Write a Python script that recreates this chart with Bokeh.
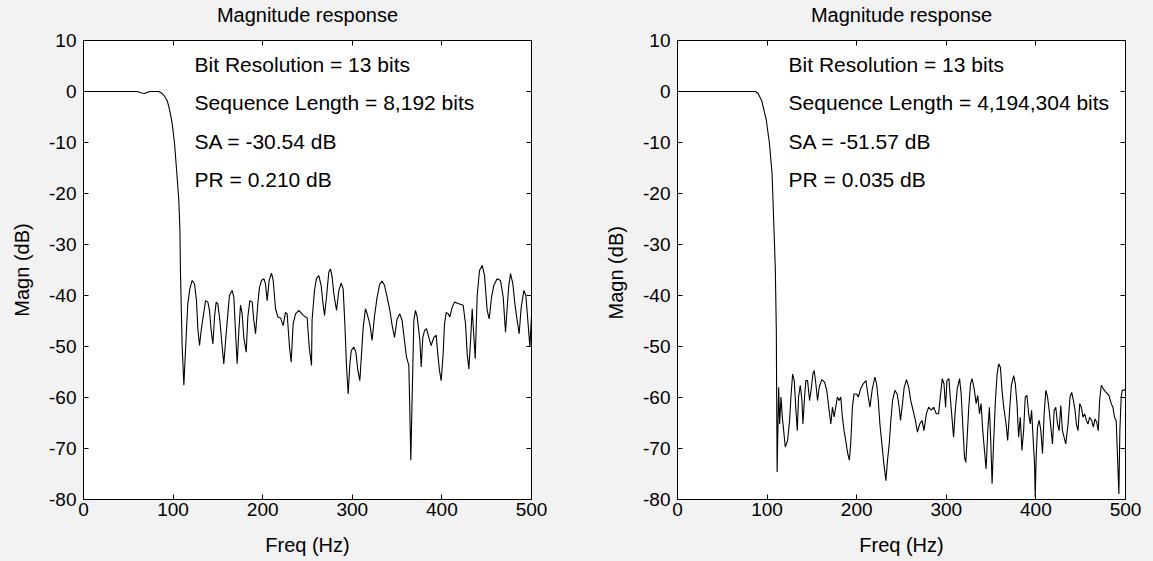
from bokeh.plotting import figure
from bokeh.layouts import row
from bokeh.models import LinearAxis, FixedTicker, Range1d, CustomJSTickFormatter
from bokeh.core.properties import value
from bokeh.embed import file_html
from bokeh.resources import INLINE

# ---------------- data ----------------
freq_left = [0, 60, 65, 68, 71, 74, 84, 87, 90, 93.4, 96, 99, 101.6, 104.5, 106.4, 107.6, 108.3,
             110.1, 112.0, 114.9, 116.4, 118.7, 121.3, 123.9, 126.1, 127.6, 129.5, 131.3, 133.2,
             136.2, 138.8, 140.6, 142.5, 144.4, 146.2, 148.1, 149.9, 152.2, 154.8, 156.6, 158.9,
             161.1, 162.9, 165.9, 167.8, 169.6, 171.5, 173.4, 175.2, 177.1, 178.9, 181.6, 183.4,
             185.7, 188.3, 190.1, 192.0, 194.6, 196.4, 198.7, 201.3, 203.1, 205.0, 207.2, 209.8,
             211.7, 214.3, 216.9, 219.9, 222.9, 225.4, 227.3, 229.9, 231.8, 234.0, 236.6, 240.3,
             245.2, 249.6, 251.9, 254.5, 255.1, 257.8, 260.0, 262.6, 265.2, 267.5, 269.0, 271.2,
             273.8, 275.7, 277.5, 279.4, 282.4, 285.0, 287.6, 289.8, 291.7, 293.5, 295.4, 297.3,
             298.8, 301.7, 304.0, 306.2, 308.4, 310.3, 312.2, 314.7, 316.6, 319.6, 322.1, 324.7,
             327.7, 330.7, 333.3, 335.9, 338.9, 341.9, 344.5, 347.1, 350.0, 353.0, 355.6, 358.2,
             360.5, 363.1, 364.2, 365.3, 366.8, 368.7, 370.5, 372.4, 375.4, 376.9, 378.7, 380.6,
             382.8, 385.4, 388.0, 391.0, 393.6, 395.4, 397.3, 399.2, 401.4, 402.9, 404.8, 407.0,
             408.9, 411.5, 414.1, 418.9, 423.7, 426.4, 428.2, 430.1, 432.0, 433.8, 435.7, 437.2,
             439.4, 442.0, 445.0, 447.6, 450.5, 452.8, 455.4, 458.0, 461.7, 465.4, 468.4, 471.0,
             472.9, 474.7, 476.6, 479.2, 481.4, 484.0, 486.2, 488.5, 491.5, 493.7, 495.9, 498.2, 500]
mag_left = [0, 0, -0.3, -0.4, -0.2, 0, 0, -0.3, -0.8, -1.8, -3.5, -6.3, -10.2, -16.8, -21.4, -27, -36.1,
            -49.8, -57.6, -46.9, -41.6, -38.7, -37.05, -37.7, -41.0, -46.5, -49.8, -46.9, -44.6,
            -41.0, -41.3, -42.9, -46.9, -49.5, -44.2, -41.3, -41.6, -44.9, -50.1, -53.4, -48.2,
            -43.6, -40.0, -39.0, -40.3, -46.9, -53.4, -46.9, -41.9, -43.6, -48.2, -51.1, -44.2,
            -41.0, -41.3, -44.9, -47.5, -41.6, -38.4, -37.05, -36.7, -37.7, -41.0, -37.05, -35.6,
            -37.05, -42.6, -44.2, -44.4, -45.9, -43.3, -43.6, -50.1, -53.1, -45.5, -43.6, -42.9,
            -43.9, -44.4, -50.1, -53.7, -44.9, -39.0, -36.7, -36.1, -38.0, -41.9, -43.9, -40.3,
            -35.4, -34.8, -36.4, -39.7, -42.9, -39.0, -37.6, -38.7, -45.6, -53.7, -59.3, -53.4,
            -50.8, -50.1, -51.1, -54.7, -56.7, -51.4, -46.2, -42.6, -43.6, -45.6, -48.8, -44.2,
            -40.3, -37.7, -37.2, -38.0, -40.3, -42.9, -45.9, -48.2, -44.6, -43.6, -44.9, -48.8,
            -52.1, -53.7, -62.5, -72.3, -59.9, -44.9, -42.9, -44.2, -48.8, -54.0, -48.2, -46.9,
            -46.5, -48.2, -49.8, -48.2, -47.8, -51.4, -54.7, -56.7, -51.4, -45.6, -43.3, -43.6,
            -44.2, -42.3, -41.3, -41.6, -41.9, -45.6, -51.4, -54.4, -48.8, -42.6, -48.2, -52.4,
            -40.0, -35.1, -34.1, -36.1, -42.9, -44.6, -40.3, -38.0, -36.7, -37.05, -40.3, -47.2,
            -42.3, -38.0, -35.7, -37.7, -41.6, -44.9, -47.5, -42.3, -39.0, -40.0, -44.9, -50.1, -43.9]

freq_right = [0, 87, 90, 94, 99, 102.5, 105.5, 107.3, 109.2, 110.3, 110.6, 111.2,
              112.9, 114.0, 115.5, 117.0, 118.5, 120.3, 122.9, 125.1, 126.6, 128.5, 130.3, 132.2,
              133.7, 135.1, 137.0, 138.9, 140.0, 141.8, 143.3, 145.2, 147.4, 149.3, 151.1, 152.6,
              154.4, 156.3, 158.1, 161.1, 164.1, 166.6, 169.2, 171.1, 172.9, 174.8, 176.6, 178.5,
              180.3, 182.2, 184.0, 185.9, 187.7, 190.0, 191.8, 193.3, 195.2, 197.0, 200.0, 201.8,
              204.4, 207.4, 210.3, 212.9, 214.8, 217.4, 220.3, 222.2, 224.1, 225.9, 228.1, 230.3,
              232.6, 234.4, 236.3, 238.1, 240.0, 242.6, 245.2, 247.4,
              248.9, 251.1, 253.0, 255.6, 258.1, 260.3, 262.9, 265.5, 267.8, 270.3, 272.9, 275.1,
              277.7, 280.3, 283.3, 285.9, 288.8, 291.4, 293.3, 295.5, 297.4, 299.2, 300.7, 302.9,
              304.4, 306.3, 308.1, 310.0, 312.2, 314.8, 316.6, 318.5, 320.3, 321.8, 323.3, 325.1,
              327.0, 328.8, 331.4, 333.3, 335.1, 337.0, 338.8, 340.7, 342.6, 344.4, 346.3, 348.1,
              349.6, 351.1, 352.6, 354.8, 356.7, 358.5, 360.4, 362.2, 364.1, 366.7, 368.5, 370.4,
              372.6, 375.2, 377.0, 378.9, 380.7, 382.6, 384.4, 386.3, 388.1, 390.0, 391.9, 393.7,
              395.2, 397.0, 398.5, 399.2, 400.3, 401.8, 403.7, 405.5, 407.4, 409.2, 411.1, 413.0,
              414.8, 416.7, 418.5, 420.4, 422.2, 424.1, 425.9, 427.8, 429.6, 431.5, 433.3, 435.9,
              438.1, 440.0, 441.9, 443.7, 445.2, 447.0, 448.9, 450.7, 452.6, 454.4, 456.3, 458.1,
              460.0, 462.2, 464.1, 465.9, 467.8, 469.6, 471.1, 473.0, 475.2, 477.8, 481.5, 484.1,
              485.9, 487.8, 489.6, 491.1, 492.6, 493.7, 495.2, 496.3, 500]
mag_right = [0, 0, -0.4, -1.8, -5.5, -10, -16, -25, -35, -47, -57.6, -74.6,
             -58.0, -65.2, -59.9, -63.9, -66.5, -69.7, -68.4, -64.5, -59.9, -55.4, -56.7, -62.5,
             -66.5, -59.9, -57.6, -60.6, -65.2, -59.9, -56.7, -56.7, -60.6, -58.3, -55.4, -54.7,
             -57.3, -60.6, -58.0, -56.5, -57.0, -58.6, -62.5, -65.2, -61.9, -63.8, -61.9, -59.9,
             -60.6, -59.9, -63.8, -66.5, -68.4, -71.0, -72.3, -69.1, -61.9, -59.3, -59.3, -59.9,
             -58.3, -57.3, -56.7, -59.9, -61.9, -58.3, -56.0, -57.3, -60.6, -65.2, -69.1, -73.0,
             -76.3, -72.3, -69.1, -64.5, -60.6, -58.6, -59.3, -61.9,
             -64.5, -61.2, -58.0, -56.5, -58.0, -60.6, -62.5, -64.5, -66.8, -65.2, -64.5, -66.5,
             -63.2, -61.9, -62.5, -61.9, -63.2, -63.2, -59.9, -56.3, -57.3, -61.9, -56.7, -56.3,
             -59.9, -63.9, -67.8, -62.5, -58.3, -56.3, -59.3, -65.8, -71.7, -72.7, -67.8, -61.9,
             -57.3, -56.3, -58.6, -61.2, -59.6, -63.2, -61.2, -66.5, -70.4, -74.0, -66.5, -61.9,
             -68.4, -76.9, -69.7, -60.6, -55.4, -53.4, -54.1, -58.6, -61.9, -65.2, -68.4, -63.2,
             -57.6, -55.7, -57.3, -61.2, -67.8, -63.9, -70.4, -66.5, -59.9, -59.6, -63.2, -65.2,
             -62.5, -68.4, -73.0, -79.5, -71.7, -65.8, -64.5, -66.5, -71.0, -63.2, -58.6, -59.9,
             -62.5, -65.8, -69.1, -62.5, -61.9, -65.2, -66.5, -61.6, -66.5, -67.8, -69.1, -65.2,
             -59.9, -59.0, -60.6, -62.5, -65.2, -66.5, -61.2, -61.9, -63.9, -63.2, -64.5, -65.2,
             -63.9, -64.5, -65.8, -64.2, -64.8, -66.5, -60.6, -57.6, -58.3, -58.9, -59.6, -61.2,
             -61.9, -63.9, -64.5, -71.7, -78.9, -66.5, -59.9, -58.6, -58.5]

x_ticks = [0, 100, 200, 300, 400, 500]
y_ticks = [10, 0, -10, -20, -30, -40, -50, -60, -70, -80]

panel_title = "Magnitude response"
x_label = "Freq (Hz)"
y_label_left = "Magn (dB)"
y_label_right = "Magn  (dB)"

notes_left = ["Bit Resolution = 13 bits", "Sequence Length = 8,192 bits",
              "SA = -30.54 dB", "PR = 0.210 dB"]
notes_right = ["Bit Resolution = 13 bits", "Sequence Length = 4,194,304 bits",
               "SA = -51.57 dB", "PR = 0.035 dB"]
notes_x = [124, 124, 124, 124]
notes_y = [5.3, -2.2, -9.8, -17.3]

FONT = "Liberation Sans"
BG = "#f2f2f2"


def style_axis(ax):
    ax.axis_line_color = "black"
    ax.axis_line_width = 1
    ax.major_tick_line_color = "black"
    ax.major_tick_in = 5
    ax.major_tick_out = 0
    ax.minor_tick_line_color = None
    ax.major_label_text_font = FONT
    ax.major_label_text_font_size = "19px"
    ax.major_label_text_color = "black"
    ax.axis_label_text_font = FONT
    ax.axis_label_text_font_style = "normal"
    ax.axis_label_text_font_size = "20px"
    ax.axis_label_text_color = "black"


def make_panel(freq, mag, notes, ylab, left_border, right_border):
    p = figure(frame_width=448, frame_height=459,
               min_border_left=left_border, min_border_right=right_border,
               min_border_top=40, min_border_bottom=62,
               x_range=Range1d(0, 500), y_range=Range1d(-80, 10),
               toolbar_location=None, output_backend="svg",
               background_fill_color="white", border_fill_color=BG,
               outline_line_color="black", outline_line_width=1)
    p.title.visible = False
    p.xgrid.visible = False
    p.ygrid.visible = False

    p.xaxis.ticker = FixedTicker(ticks=x_ticks)
    p.yaxis.ticker = FixedTicker(ticks=y_ticks)
    p.xaxis.axis_label = x_label
    p.yaxis.axis_label = ylab
    for ax in p.xaxis + p.yaxis:
        style_axis(ax)
    p.xaxis.major_label_overrides = {t: str(t) for t in x_ticks}
    p.yaxis.major_label_overrides = {t: str(t) for t in y_ticks}
    p.xaxis.major_label_standoff = 3
    p.xaxis.axis_label_standoff = 15
    p.yaxis.major_label_standoff = 7
    p.yaxis.axis_label_standoff = 13

    blank = CustomJSTickFormatter(code="return ''")
    # top axis carries the panel title as its label
    top = LinearAxis(ticker=FixedTicker(ticks=x_ticks), formatter=blank)
    right = LinearAxis(ticker=FixedTicker(ticks=y_ticks), formatter=blank)
    for ax in (top, right):
        style_axis(ax)
        ax.major_label_standoff = 0
    top.axis_label = panel_title
    top.axis_label_standoff = 15
    p.add_layout(top, "above")
    p.add_layout(right, "right")

    p.line(freq, mag, line_color="black", line_width=1.1)
    p.text(x=notes_x, y=notes_y, text=notes, text_font=value(FONT),
           text_font_size="21px", text_baseline="middle", text_align="left",
           text_color="black")
    return p


p_left = make_panel(freq_left, mag_left, notes_left, y_label_left, 83, 45)
p_right = make_panel(freq_right, mag_right, notes_right, y_label_right, 101, 28)

layout = row(p_left, p_right, spacing=0, styles={"background-color": BG})
open("out.html", "w").write(file_html(layout, INLINE))
